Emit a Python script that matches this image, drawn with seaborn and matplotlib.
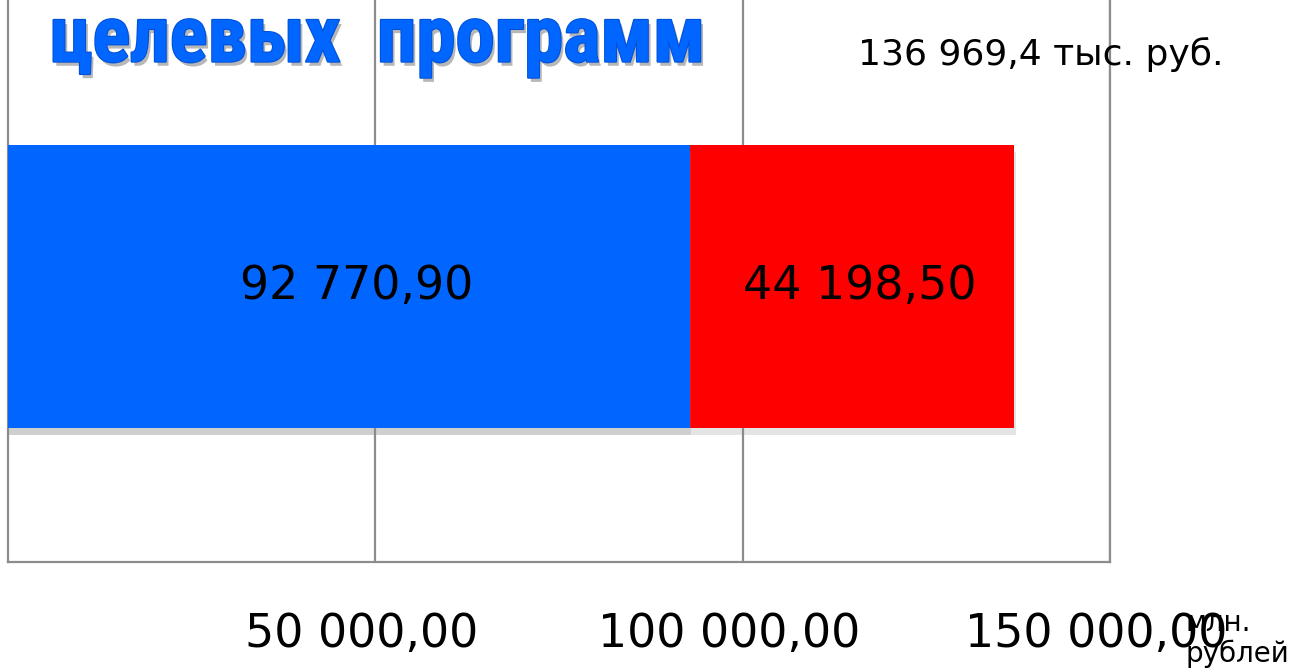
import numpy as np
import pandas as pd
import seaborn as sns
import matplotlib.pyplot as plt
from matplotlib import patheffects as pe
from matplotlib import font_manager
from matplotlib.transforms import ScaledTranslation

sns.set_style("white")
plt.rcParams['font.family'] = ['DejaVu Sans']
plt.rcParams['text.color'] = 'black'
plt.rcParams['xtick.color'] = 'black'

# data
category = ["Программы"]
federal = [92770.90]
regional = [44198.50]
total = [f + r for f, r in zip(federal, regional)]
ticks = [50000, 100000, 150000]
tick_labels = ["50 000,00", "100 000,00", "150 000,00"]
bar_labels = ["92 770,90", "44 198,50"]
total_label = "136 969,4 тыс. руб."
unit_label = "млн.\nрублей"
title = "целевых  программ"

df = pd.DataFrame({"cat": category, "total": total, "federal": federal})

fig = plt.figure(figsize=(12.91, 6.69), dpi=100)
ax = fig.add_axes([0.0062, 0.16, 0.8536, 0.84])

shadow = [pe.SimplePatchShadow(offset=(1, -5), shadow_rgbFace='#888888', alpha=0.22), pe.Normal()]
sns.barplot(data=df, x="total", y="cat", color="#ff0000", saturation=1, width=0.5, linewidth=0, ax=ax)
sns.barplot(data=df, x="federal", y="cat", color="#0066ff", saturation=1, width=0.5, linewidth=0, ax=ax)
for p in ax.patches:
    p.set_path_effects(shadow)
    p.set_zorder(3)

ax.set_xlim(0, 150000)
ax.set_ylim(0.487, -0.506)
ax.grid(axis='x', color='#8c8c8c', lw=1.6)
ax.set_axisbelow(True)
for s in ['left', 'bottom', 'right']:
    ax.spines[s].set_color('#8c8c8c')
    ax.spines[s].set_linewidth(1.6)
ax.spines['top'].set_visible(False)

ax.set_xticks(ticks, tick_labels, fontsize=33)
ax.tick_params(axis='x', length=0, pad=36)
shift = ScaledTranslation(-0.14, 0, fig.dpi_scale_trans)
for lbl in ax.get_xticklabels():
    lbl.set_transform(lbl.get_transform() + shift)
ax.set_yticks([])
ax.set_xlabel('')
ax.set_ylabel('')

# segment labels, nudged a little right like the original
nudge = ax.transData + ScaledTranslation(0.08, 0, fig.dpi_scale_trans)
ax.text(federal[0] / 2, 0, bar_labels[0], ha='center', va='center', fontsize=33, zorder=5,
        transform=nudge)
ax.text(federal[0] + regional[0] / 2, 0, bar_labels[1], ha='center', va='center', fontsize=33, zorder=5,
        transform=nudge)

fig.text(0.806, 0.918, total_label, ha='center', va='center', fontsize=26)
fig.text(0.918, 0.046, unit_label, ha='left', va='center', fontsize=20, linespacing=1.1)

# narrow font for the heading if one is installed
names = {f.name for f in font_manager.fontManager.ttflist}
title_font = 'DejaVu Sans'
for cand in ['Liberation Sans Narrow', 'DejaVu Sans Condensed', 'Roboto Condensed', 'Open Sans Condensed']:
    if cand in names:
        title_font = cand
        break

t = fig.text(0.2924, 0.94, title, ha='center', va='center', fontsize=66, weight='bold',
             color='#0066ff', family=[title_font, 'DejaVu Sans'],
             path_effects=[pe.withSimplePatchShadow(offset=(2, -3), shadow_rgbFace='#333333', alpha=0.35),
                           pe.withStroke(linewidth=1.5, foreground='#0050d8')])
# fit heading width to about 655 px
fig.canvas.draw()
w = t.get_window_extent().width
t.set_fontsize(66 * 655 / w)

fig.savefig("out.png", dpi=100)
